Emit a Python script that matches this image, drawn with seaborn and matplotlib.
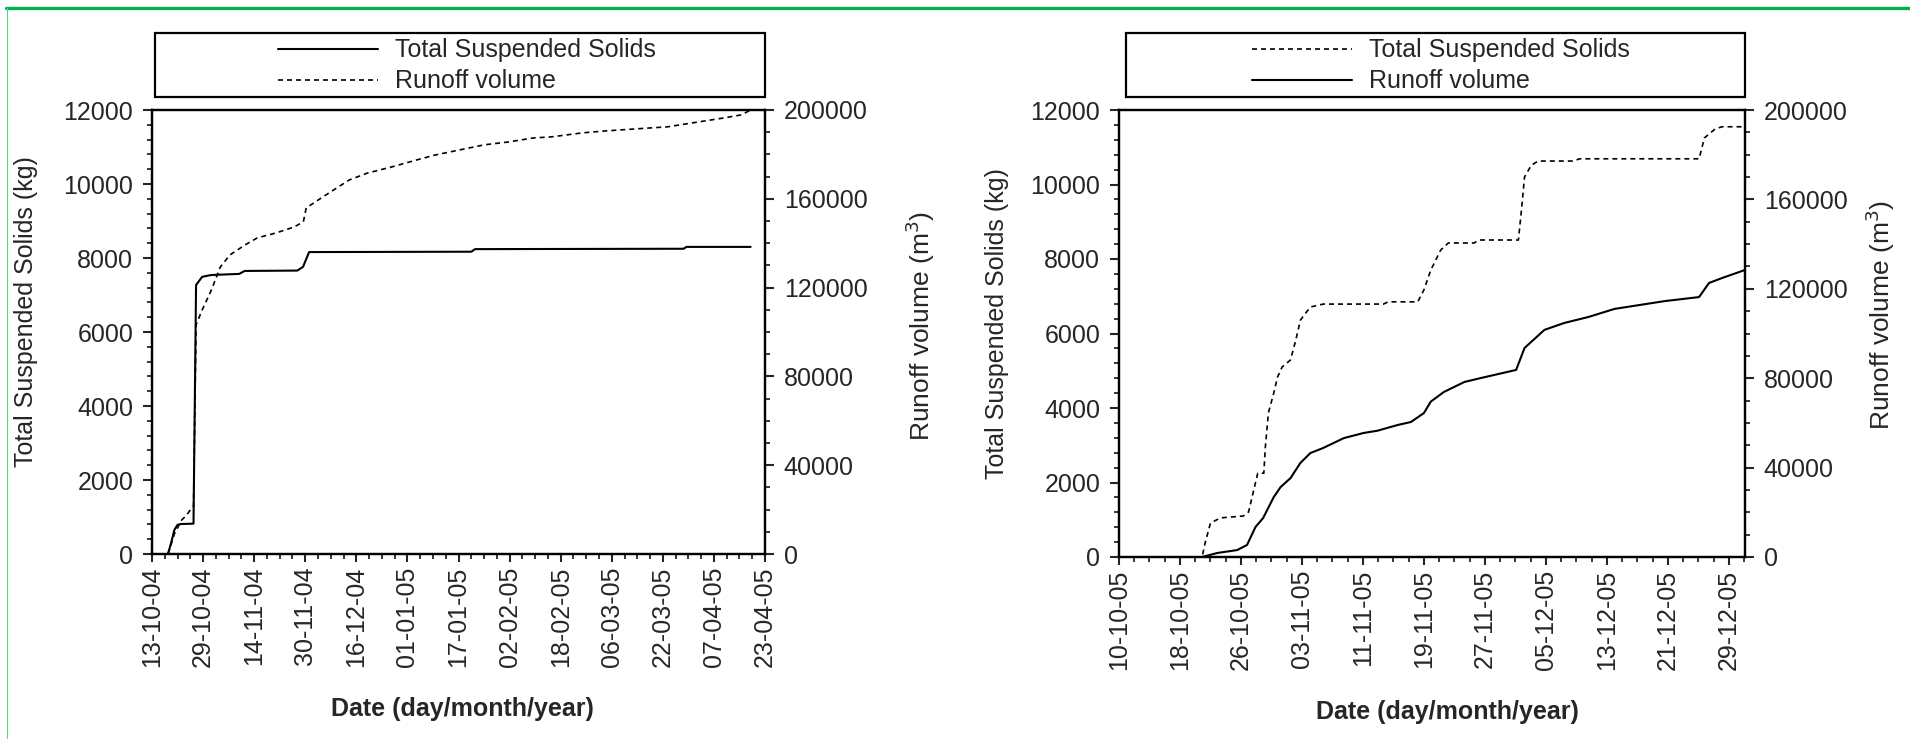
import pandas as pd
import matplotlib
matplotlib.use("Agg")
import matplotlib.pyplot as plt
from matplotlib.ticker import MultipleLocator
from matplotlib.lines import Line2D
from matplotlib.patches import Rectangle
import seaborn as sns

# ---- left panel (season 2004/05), x = days after 13-10-04
start_a = "2004-10-13"
tss_a_day = [5, 6, 7, 8, 9, 13, 13.8, 15.7, 18.5, 27.3, 29, 45.5, 47.3, 49.2,
             100, 101.2, 166.5, 167.4, 187.5]
tss_a = [0, 300, 650, 790, 810, 820, 7270, 7490, 7540, 7570, 7650, 7660, 7760, 8160,
         8170, 8240, 8250, 8300, 8300]
run_a_day = [5, 7, 9.3, 10.9, 12.4, 13, 13.8, 15.7, 18.6, 21.4, 24.4, 29.1, 33, 38.8,
             44.5, 47.4, 48.3, 52.1, 56.9, 61.8, 67.5, 75.2, 82.9, 88.6, 96.3, 104,
             111.6, 119.4, 125.1, 134.8, 142.3, 155.8, 161.4, 169.3, 179, 184.6, 187.5]
run_a = [0, 9000, 15300, 17600, 20700, 21500, 103200, 109900, 118900, 129300, 134700,
         139200, 142400, 144600, 147300, 149600, 155900, 159500, 164000, 168500, 171600,
         174400, 177500, 179700, 182000, 184300, 185600, 187400, 187900, 189700, 190600,
         191900, 192400, 194200, 196400, 197800, 200000]

# ---- right panel (season 2005), x = days after 10-10-05
start_b = "2005-10-10"
tss_b_day = [1.8, 10.9, 11.3, 12.0, 13.3, 16.3, 17.0, 18.2, 19.0, 19.2, 19.6, 20.3, 20.8,
             21.4, 22.5, 23.2, 23.8, 25.1, 26.8, 34.7, 35.3, 39.2, 40.0, 40.9, 42.2, 43.2,
             46.6, 47.2, 52.4, 52.8, 53.2, 54.1, 55.0, 59.7, 60.4, 76.1, 76.8, 78.2, 79.1,
             82.1]
tss_b = [0, 0, 380, 910, 1050, 1100, 1210, 2250, 2250, 2950, 3870, 4400, 4830, 5100,
         5290, 5830, 6360, 6710, 6790, 6790, 6850, 6850, 7170, 7700, 8240, 8430, 8430,
         8510, 8510, 9320, 10200, 10520, 10630, 10630, 10690, 10690, 11250, 11490, 11550,
         11550]
run_b_day = [10.9, 12.9, 15.5, 16.8, 17.9, 18.9, 20.3, 21.2, 22.5, 23.8, 25.1, 26.8, 29.5,
             32.1, 33.9, 36.6, 38.3, 40.0, 40.9, 42.6, 45.3, 47.5, 52.1, 53.2, 55.8, 58.4,
             61.6, 65.0, 68.2, 71.6, 76.1, 77.4, 79.1, 82.1]
run_b = [0, 1800, 3100, 5400, 13400, 17400, 26800, 31300, 35300, 42100, 46500, 48800,
         53200, 55500, 56500, 59100, 60400, 64400, 69500, 73800, 78300, 80100, 83700,
         93500, 101600, 104700, 107400, 111000, 112700, 114500, 116300, 122600, 124800,
         128400]

labels = ["Total Suspended Solids", "Runoff volume"]

sns.set_style("ticks")
plt.rcParams["font.family"] = ["Liberation Sans", "DejaVu Sans"]
plt.rcParams["axes.linewidth"] = 1.6


def to_dates(start, days):
    return pd.Timestamp(start) + pd.to_timedelta(days, unit="D")


def panel(fig, rect, start, tss_day, tss, run_day, run, tss_dashed,
          xlim, ticks, minor, lab, leg_center):
    ax = fig.add_axes(rect)
    ax2 = ax.twinx()
    sns.lineplot(x=to_dates(start, tss_day), y=tss, ax=ax, color="black",
                 linewidth=1.5, estimator=None, sort=False)
    sns.lineplot(x=to_dates(start, run_day), y=run, ax=ax2, color="black",
                 linewidth=1.5, estimator=None, sort=False)
    l_tss, l_run = ax.lines[0], ax2.lines[0]
    dashed = l_tss if tss_dashed else l_run
    dashed.set_linewidth(1.2)
    dashed.set_dashes([3, 2.4])

    ax.set_xlim(pd.Timestamp(xlim[0]), pd.Timestamp(xlim[1]))
    ax.set_xticks(ticks)
    ax.set_xticklabels([t.strftime("%d-%m-%y") for t in ticks], rotation=90)
    ax.set_xticks(minor, minor=True)

    ax.set_ylim(0, 12000)
    ax.set_yticks(range(0, 12001, 2000))
    ax.yaxis.set_minor_locator(MultipleLocator(400))
    ax2.set_ylim(0, 200000)
    ax2.set_yticks(range(0, 200001, 40000))
    ax2.set_yticklabels([str(v) for v in range(0, 200001, 40000)])
    ax2.yaxis.set_minor_locator(MultipleLocator(10000))

    for a in (ax, ax2):
        a.tick_params(axis="y", which="major", length=6.5, width=1.5, pad=7,
                      labelsize=18, direction="out")
        a.tick_params(axis="y", which="minor", length=3.6, width=1.3, direction="out")
        for s in a.spines.values():
            s.set_visible(True)
            s.set_linewidth(1.6)
            s.set_color("black")
    ax.tick_params(axis="x", which="major", length=6, width=1.5, pad=3,
                   labelsize=18, direction="out")
    ax.tick_params(axis="x", which="minor", length=3.8, width=1.3, direction="out")
    ax.tick_params(axis="y", right=False, which="both")
    ax2.tick_params(axis="y", left=False, which="both")

    ax.set_xlabel("Date (day/month/year)", fontsize=18, fontweight="bold")
    ax.set_ylabel("Total Suspended Solids (kg)", fontsize=18)
    ax2.set_ylabel("Runoff volume (m$^3$)", fontsize=19)
    ax.xaxis.set_label_coords(*lab[0])
    ax.yaxis.set_label_coords(*lab[1])
    ax2.yaxis.set_label_coords(*lab[2])
    for t in (ax.xaxis.label, ax.yaxis.label, ax2.yaxis.label):
        t.set_va("center")
        t.set_ha("center")

    fig.legend([l_tss, l_run], labels, loc="center", bbox_to_anchor=leg_center,
               bbox_transform=fig.transFigure, frameon=False, fontsize=18,
               handlelength=4.0, handletextpad=0.7, labelspacing=0.28, borderpad=0)
    return ax, ax2


W, H = 1910, 739
fig = plt.figure(figsize=(W / 100, H / 100), dpi=100)

ticks_a = pd.date_range("2004-10-13", "2005-04-23", freq="16D")
minor_a = pd.date_range("2004-10-13", "2005-04-23", freq="4D")
ticks_b = pd.date_range("2005-10-10", "2005-12-29", freq="8D")
minor_b = pd.date_range("2005-10-10", "2005-12-31", freq="2D")

panel(fig, [152 / W, 1 - 554 / H, 613 / W, 444 / H], start_a, tss_a_day, tss_a,
      run_a_day, run_a, False, ("2004-10-13", "2005-04-23"), ticks_a, minor_a,
      [(0.506, -0.349), (-0.2055, 0.547), (1.253, 0.514)], (467 / W, 1 - 66 / H))
panel(fig, [1119 / W, 1 - 557 / H, 626 / W, 447 / H], start_b, tss_b_day, tss_b,
      run_b_day, run_b, True, ("2005-10-10", "2005-12-31 03:00"), ticks_b, minor_b,
      [(0.524, -0.347), (-0.195, 0.523), (1.216, 0.541)], (1441 / W, 1 - 66 / H))

# legend frames
fig.add_artist(Rectangle((155 / W, 1 - 97 / H), 610 / W, 64 / H, transform=fig.transFigure,
                         fill=False, ec="black", lw=1.6))
fig.add_artist(Rectangle((1126 / W, 1 - 97 / H), 619 / W, 64 / H, transform=fig.transFigure,
                         fill=False, ec="black", lw=1.6))

# green page border
fig.add_artist(Line2D([6 / W, 1], [1 - 7.5 / H] * 2, transform=fig.transFigure,
                      color="#00b050", lw=2.4))
fig.add_artist(Line2D([7 / W] * 2, [0, 1 - 7.5 / H], transform=fig.transFigure,
                      color="#66d08a", lw=0.8))

fig.savefig("out.png", dpi=100)
